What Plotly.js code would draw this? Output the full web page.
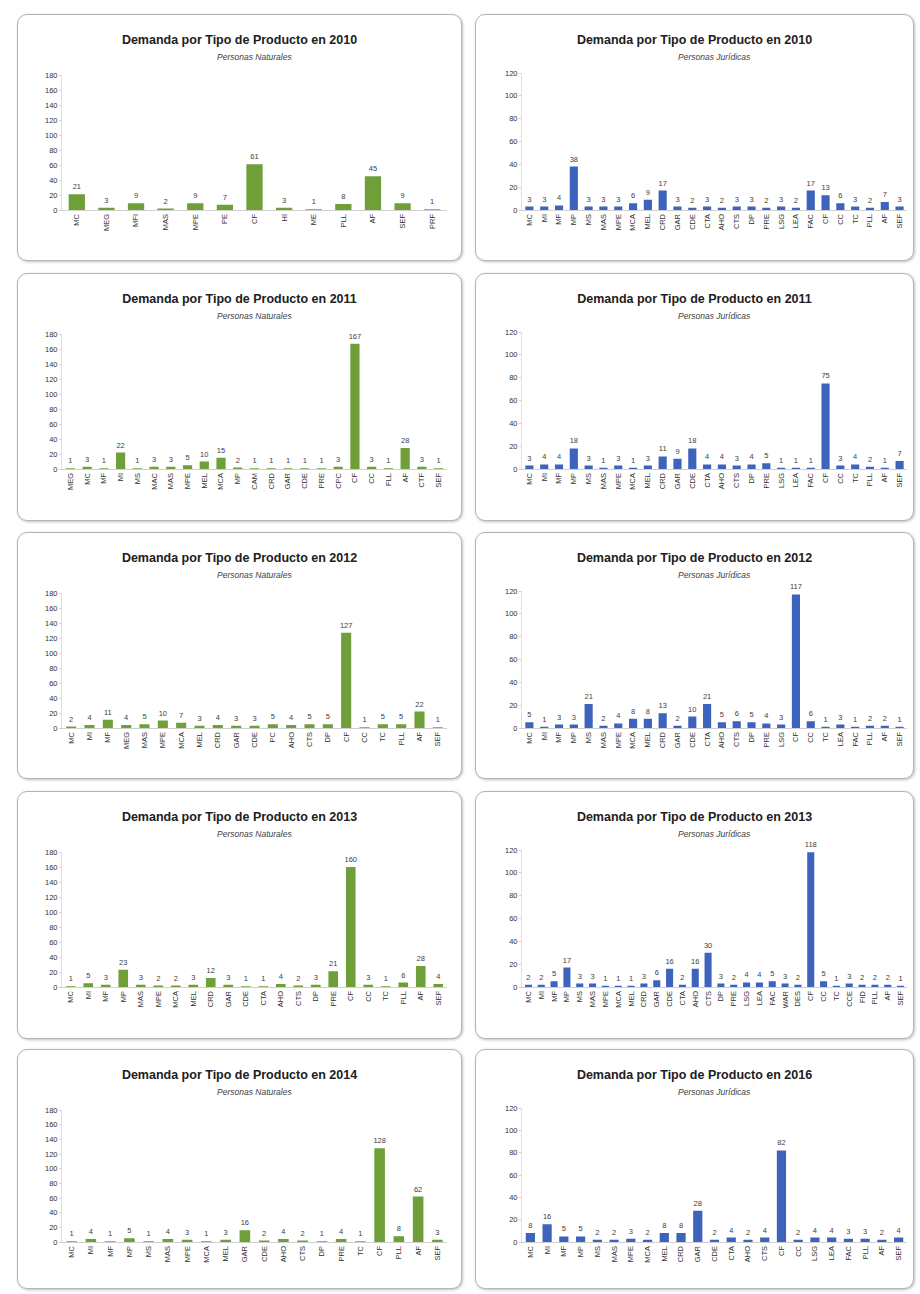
<!DOCTYPE html>
<html>
<head>
<meta charset="utf-8">
<script src="https://cdn.plot.ly/plotly-3.0.1.min.js"></script>
<style>
  html, body { margin: 0; padding: 0; background: #ffffff; }
  body { width: 920px; height: 1294px; position: relative; overflow: hidden; }
  .box { position: absolute; border: 1.5px solid #b4b4b4; border-radius: 10px; background: #fff;
         box-shadow: 1px 1px 3px rgba(0,0,0,0.25); overflow: hidden; }
  .box > div { position: absolute; left: 0; top: 0; }
</style>
</head>
<body>
<div id="b0" class="box"><div id="p0"></div></div>
<div id="b1" class="box"><div id="p1"></div></div>
<div id="b2" class="box"><div id="p2"></div></div>
<div id="b3" class="box"><div id="p3"></div></div>
<div id="b4" class="box"><div id="p4"></div></div>
<div id="b5" class="box"><div id="p5"></div></div>
<div id="b6" class="box"><div id="p6"></div></div>
<div id="b7" class="box"><div id="p7"></div></div>
<div id="b8" class="box"><div id="p8"></div></div>
<div id="b9" class="box"><div id="p9"></div></div>
<script>
// ---------------- DATA ----------------
const titles = ["Demanda por Tipo de Producto en 2010", "Demanda por Tipo de Producto en 2010",
                "Demanda por Tipo de Producto en 2011", "Demanda por Tipo de Producto en 2011",
                "Demanda por Tipo de Producto en 2012", "Demanda por Tipo de Producto en 2012",
                "Demanda por Tipo de Producto en 2013", "Demanda por Tipo de Producto en 2013",
                "Demanda por Tipo de Producto en 2014", "Demanda por Tipo de Producto en 2016"];
const subtitleNat = "Personas Naturales";
const subtitleJur = "Personas Jurídicas";

// 2010 - Personas Naturales
const cats2010N = ["MC","MEG","MFI","MAS","MPE","PE","CF","HI","ME","PLL","AF","SEF","PRF"];
const vals2010N = [21, 3, 9, 2, 9, 7, 61, 3, 1, 8, 45, 9, 1];

// 2010 - Personas Jurídicas
const cats2010J = ["MC","MI","MF","MP","MS","MAS","MPE","MCA","MEL","CRD","GAR","CDE","CTA","AHO","CTS","DP","PRE","LSG","LEA","FAC","CF","CC","TC","PLL","AF","SEF"];
const vals2010J = [3, 3, 4, 38, 3, 3, 3, 6, 9, 17, 3, 2, 3, 2, 3, 3, 2, 3, 2, 17, 13, 6, 3, 2, 7, 3];

// 2011 - Personas Naturales
const cats2011N = ["MEG","MC","MF","MI","MS","MAC","MAS","MPE","MEL","MCA","MP","CAM","CRD","GAR","CDE","PRE","CPC","CF","CC","FLL","AF","CTF","SEF"];
const vals2011N = [1, 3, 1, 22, 1, 3, 3, 5, 10, 15, 2, 1, 1, 1, 1, 1, 3, 167, 3, 1, 28, 3, 1];

// 2011 - Personas Jurídicas
const cats2011J = ["MC","MI","MF","MP","MS","MAS","MPE","MCA","MEL","CRD","GAR","CDE","CTA","AHO","CTS","DP","PRE","LSG","LEA","FAC","CF","CC","TC","PLL","AF","SEF"];
const vals2011J = [3, 4, 4, 18, 3, 1, 3, 1, 3, 11, 9, 18, 4, 4, 3, 4, 5, 1, 1, 1, 75, 3, 4, 2, 1, 7];

// 2012 - Personas Naturales
const cats2012N = ["MC","MI","MF","MEG","MAS","MPE","MCA","MEL","CRD","GAR","CDE","PC","AHO","CTS","DP","CF","CC","TC","PLL","AF","SEF"];
const vals2012N = [2, 4, 11, 4, 5, 10, 7, 3, 4, 3, 3, 5, 4, 5, 5, 127, 1, 5, 5, 22, 1];

// 2012 - Personas Jurídicas
const cats2012J = ["MC","MI","MF","MP","MS","MAS","MPE","MCA","MEL","CRD","GAR","CDE","CTA","AHO","CTS","DP","PRE","LSG","CF","CC","TC","LEA","FAC","PLL","AF","SEF"];
const vals2012J = [5, 1, 3, 3, 21, 2, 4, 8, 8, 13, 2, 10, 21, 5, 6, 5, 4, 3, 117, 6, 1, 3, 1, 2, 2, 1];

// 2013 - Personas Naturales
const cats2013N = ["MC","MI","MF","MP","MAS","MPE","MCA","MEL","CRD","GAR","CDE","CTA","AHO","CTS","DP","PRE","CF","CC","TC","PLL","AF","SEF"];
const vals2013N = [1, 5, 3, 23, 3, 2, 2, 3, 12, 3, 1, 1, 4, 2, 3, 21, 160, 3, 1, 6, 28, 4];

// 2013 - Personas Jurídicas
const cats2013J = ["MC","MI","MF","MP","MS","MAS","MPE","MCA","MEL","CRD","GAR","CDE","CTA","AHO","CTS","DP","PRE","LSG","LEA","FAC","WAR","DES","CF","CC","TC","CCE","FID","PLL","AF","SEF"];
const vals2013J = [2, 2, 5, 17, 3, 3, 1, 1, 1, 3, 6, 16, 2, 16, 30, 3, 2, 4, 4, 5, 3, 2, 118, 5, 1, 3, 2, 2, 2, 1];

// 2014 - Personas Naturales
const cats2014N = ["MC","MI","MF","MP","MS","MAS","MPE","MCA","MEL","GAR","CDE","AHO","CTS","DP","PRE","TC","CF","PLL","AF","SEF"];
const vals2014N = [1, 4, 1, 5, 1, 4, 3, 1, 3, 16, 2, 4, 2, 1, 4, 1, 128, 8, 62, 3];

// 2016 - Personas Jurídicas
const cats2016J = ["MC","MI","MF","MP","MS","MAS","MPE","MCA","MEL","CRD","GAR","CDE","CTA","AHO","CTS","CF","CC","LSG","LEA","FAC","PLL","AF","SEF"];
const vals2016J = [8, 16, 5, 5, 2, 2, 3, 2, 8, 8, 28, 2, 4, 2, 4, 82, 2, 4, 4, 3, 3, 2, 4];

// ---------------- RENDER ----------------
const catsList = [cats2010N, cats2010J, cats2011N, cats2011J, cats2012N, cats2012J, cats2013N, cats2013J, cats2014N, cats2016J];
const valsList = [vals2010N, vals2010J, vals2011N, vals2011J, vals2012N, vals2012J, vals2013N, vals2013J, vals2014N, vals2016J];

const rows = [[14, 248], [273, 249], [532, 248], [791, 249], [1049, 241]];
const cols = [[17, 446], [475, 440]];
const FONT = "Liberation Sans, Arial, sans-serif";

for (let i = 0; i < 10; i++) {
  const r = Math.floor(i / 2), c = i % 2;
  const [top, h] = rows[r];
  const [left, w] = cols[c];
  const box = document.getElementById('b' + i);
  box.style.left = left + 'px'; box.style.top = top + 'px';
  box.style.width = (w - 3) + 'px'; box.style.height = (h - 3) + 'px';
  const isNat = c === 0;
  const color = isNat ? '#6f9f38' : '#3d63bd';
  const ymax = isNat ? 180 : 120;
  const H = h - 3;
  const plotTop = isNat ? 60 : 58;
  const plotBottom = r === 4 ? 192 : 195;
  const trace = {
    type: 'bar',
    x: catsList[i],
    y: valsList[i],
    marker: { color: color, line: { width: 0 } },
    text: valsList[i].map(String),
    textposition: 'outside',
    constraintext: 'none',
    textfont: { family: FONT, size: 7.5, color: '#404040' },
    cliponaxis: false,
    hoverinfo: 'x+y'
  };
  const layout = {
    width: w - 3, height: H,
    margin: { l: isNat ? 44 : 46, r: isNat ? 14 : 6, t: plotTop, b: H - plotBottom },
    paper_bgcolor: 'rgba(0,0,0,0)', plot_bgcolor: 'rgba(0,0,0,0)',
    showlegend: false,
    bargap: 0.45,
    font: { family: FONT, color: '#404040' },
    title: {
      text: '<b>' + titles[i] + '</b>',
      font: { family: FONT, size: 12.5, color: '#202020' },
      x: 0.5, xanchor: 'center', xref: 'container',
      y: 1 - 25 / H, yanchor: 'middle', yref: 'container'
    },
    annotations: [{
      text: '<i>' + (isNat ? subtitleNat : subtitleJur) + '</i>',
      xref: 'paper', yref: 'paper', x: 0.5, y: 1, yshift: plotTop - 42,
      xanchor: 'center', yanchor: 'middle', showarrow: false,
      font: { family: FONT, size: 8.5, color: '#404040' }
    }],
    xaxis: {
      type: 'category', tickangle: -90, tickfont: { family: FONT, size: 7.5, color: '#303030' },
      showline: true, linecolor: '#d0d0d0', linewidth: 1, ticks: '', showgrid: false,
      automargin: false
    },
    yaxis: {
      range: [0, ymax], dtick: 20, showgrid: false, zeroline: false,
      showline: true, linecolor: '#e0e0e0', ticks: 'outside', ticklen: 2, tickcolor: '#d0d0d0',
      tickfont: { family: FONT, size: 7.5, color: '#303030' }, automargin: false
    }
  };
  Plotly.newPlot('p' + i, [trace], layout, { staticPlot: true, displayModeBar: false });
}
</script>
</body>
</html>
